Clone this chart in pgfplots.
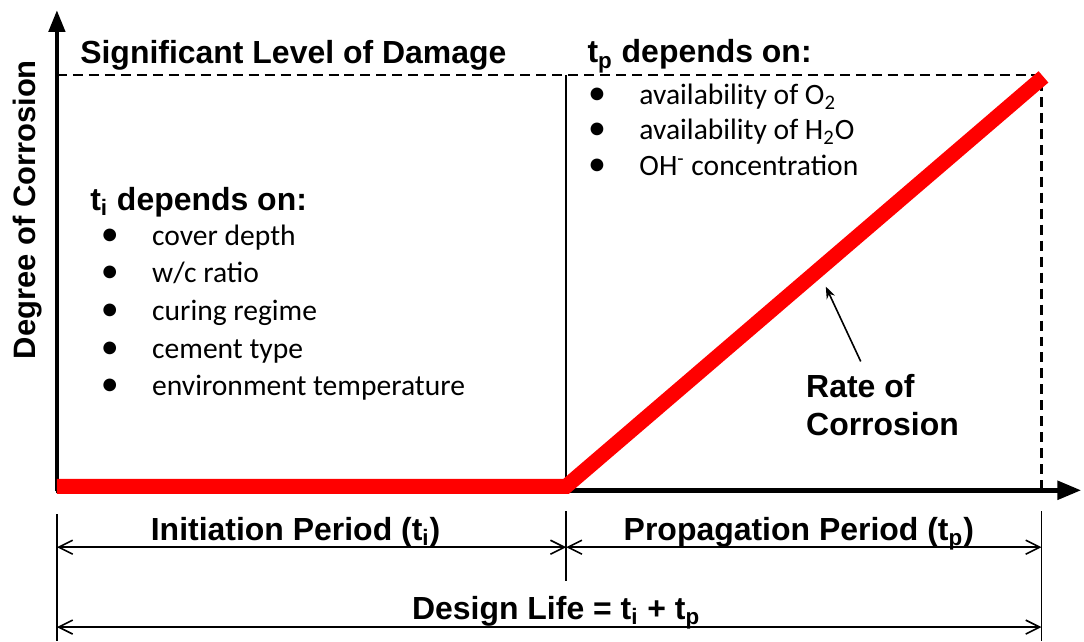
\documentclass[border=0pt]{standalone}
\usepackage{pgfplots}
\pgfplotsset{compat=1.18}
\usepackage{fontspec}
\setmainfont{Liberation Sans}
\newfontfamily\calfont{Carlito}
\usetikzlibrary{arrows.meta}
\newcommand\bigb{\fontsize{16pt}{19pt}\selectfont\bfseries}
\newcommand\lst{\fontsize{14.8pt}{17pt}\selectfont\calfont}
\newcommand\bul{\fontsize{18pt}{17pt}\selectfont\calfont •}
\begin{document}
\begin{tikzpicture}
\begin{axis}[scale only axis, width=542pt, height=321pt,
  xmin=0, xmax=1084, ymin=0, ymax=642, y dir=reverse,
  hide axis, clip=false]
\path (axis cs:0,0) rectangle (axis cs:1084,642);
% dashed damage level
\draw[black, line width=1.1pt, dash pattern=on 5pt off 3pt] (axis cs:57,75) -- (axis cs:1043,75) -- (axis cs:1043,490);
% thin vertical at t_i
\draw[black, line width=0.9pt] (axis cs:567,75) -- (axis cs:567,495);
% axes
\draw[black, line width=2.3pt, -{Triangle[length=11pt,width=8pt]}] (axis cs:57,492) -- (axis cs:57,10);
\draw[black, line width=2.6pt, -{Triangle[length=12pt,width=9pt]}] (axis cs:56,491) -- (axis cs:1083,491);
% red corrosion curve
\addplot[red, line width=7.5pt, line join=miter, line cap=butt] coordinates {(57,487) (567,487) (1045,77)};
% rate arrow
\draw[black, line width=0.8pt, -{Stealth[length=6pt,width=4.5pt]}] (axis cs:862,362) -- (axis cs:827,287);
% texts
\node[anchor=base west, inner sep=0pt] at (axis cs:80,64) {\bigb Significant Level of Damage};
\node[anchor=base west, inner sep=0pt] at (axis cs:588,63) {\bigb t\textsubscript{p} depends on:};
\node[anchor=base west, inner sep=0pt] at (axis cs:90,211) {\bigb t\textsubscript{i} depends on:};
\node[rotate=90, inner sep=0pt] at (axis cs:28,210) {\fontsize{15.5pt}{18pt}\selectfont\bfseries Degree of Corrosion};
% left list
\node[anchor=base, inner sep=0pt] at (axis cs:110,246) {\bul};
\node[anchor=base west, inner sep=0pt] at (axis cs:152,246) {\lst cover depth};
\node[anchor=base, inner sep=0pt] at (axis cs:110,283) {\bul};
\node[anchor=base west, inner sep=0pt] at (axis cs:152,283) {\lst w/c ratio};
\node[anchor=base, inner sep=0pt] at (axis cs:110,321) {\bul};
\node[anchor=base west, inner sep=0pt] at (axis cs:152,321) {\lst curing regime};
\node[anchor=base, inner sep=0pt] at (axis cs:110,359) {\bul};
\node[anchor=base west, inner sep=0pt] at (axis cs:152,359) {\lst cement type};
\node[anchor=base, inner sep=0pt] at (axis cs:110,396) {\bul};
\node[anchor=base west, inner sep=0pt] at (axis cs:152,396) {\lst environment temperature};
% right list
\node[anchor=base, inner sep=0pt] at (axis cs:598,105) {\bul};
\node[anchor=base west, inner sep=0pt] at (axis cs:640,105) {\lst availability of O\textsubscript{2}};
\node[anchor=base, inner sep=0pt] at (axis cs:598,140) {\bul};
\node[anchor=base west, inner sep=0pt] at (axis cs:640,140) {\lst availability of H\textsubscript{2}O};
\node[anchor=base, inner sep=0pt] at (axis cs:598,176) {\bul};
\node[anchor=base west, inner sep=0pt] at (axis cs:640,176) {\lst OH\textsuperscript{-} concentration};
% rate of corrosion
\node[anchor=base west, inner sep=0pt] at (axis cs:807,398) {\bigb Rate of};
\node[anchor=base west, inner sep=0pt] at (axis cs:807,436) {\bigb Corrosion};
% dimension lines
\draw[black, line width=0.8pt] (axis cs:57,515) -- (axis cs:57,642);
\draw[black, line width=0.8pt] (axis cs:567,512) -- (axis cs:567,582);
\draw[black, line width=0.8pt] (axis cs:1043,512) -- (axis cs:1043,642);
\draw[black, line width=0.8pt, {Straight Barb[length=7pt,width=7pt]}-{Straight Barb[length=7pt,width=7pt]}] (axis cs:57,548) -- (axis cs:567,548);
\draw[black, line width=0.8pt, {Straight Barb[length=7pt,width=7pt]}-{Straight Barb[length=7pt,width=7pt]}] (axis cs:567,548) -- (axis cs:1043,548);
\draw[black, line width=0.8pt, {Straight Barb[length=7pt,width=7pt]}-{Straight Barb[length=7pt,width=7pt]}] (axis cs:57,628) -- (axis cs:1043,628);
\node[anchor=base, inner sep=0pt] at (axis cs:296,541) {\bigb Initiation Period (t\textsubscript{i})};
\node[anchor=base, inner sep=0pt] at (axis cs:800,541) {\bigb Propagation Period (t\textsubscript{p})};
\node[anchor=base, inner sep=0pt] at (axis cs:557,620) {\bigb Design Life = t\textsubscript{i} + t\textsubscript{p}};
\end{axis}
\end{tikzpicture}
\end{document}
